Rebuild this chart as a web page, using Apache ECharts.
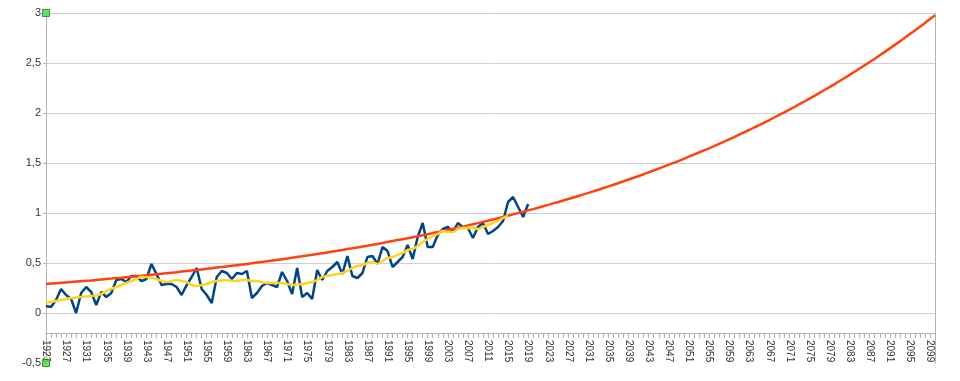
<!DOCTYPE html>
<html>
<head>
<meta charset="utf-8">
<script src="https://cdn.jsdelivr.net/npm/echarts@6/dist/echarts.min.js"></script>
<style>html,body{margin:0;padding:0;background:#fff}#c{width:960px;height:381px}</style>
</head>
<body>
<div id="c"></div>
<script>
// Year range of the category axis
const firstYear = 1923;
const lastYear = 2100;

// Annual values (1923–2019)
const annual = [
  0.07,0.06,0.13,0.24,0.18,0.14,0.00,0.20,0.26,0.21,
  0.08,0.21,0.16,0.20,0.33,0.34,0.31,0.37,0.37,0.32,
  0.34,0.49,0.39,0.28,0.29,0.29,0.26,0.18,0.28,0.36,
  0.45,0.24,0.18,0.10,0.36,0.42,0.40,0.34,0.40,0.39,
  0.42,0.15,0.20,0.27,0.30,0.28,0.26,0.41,0.32,0.19,
  0.45,0.16,0.20,0.14,0.43,0.33,0.42,0.46,0.51,0.39,
  0.57,0.37,0.35,0.40,0.56,0.57,0.49,0.66,0.62,0.46,
  0.51,0.56,0.68,0.54,0.76,0.90,0.66,0.66,0.78,0.84,
  0.86,0.81,0.90,0.86,0.85,0.75,0.86,0.90,0.79,0.82,
  0.86,0.92,1.11,1.16,1.06,0.96,1.09
];

// Smoothed values (1923–2015)
const smoothed = [
  0.107,0.11,0.12,0.13,0.14,0.15,0.155,0.16,0.165,0.17,
  0.175,0.19,0.22,0.24,0.26,0.28,0.30,0.32,0.34,0.36,
  0.36,0.35,0.34,0.32,0.31,0.32,0.33,0.32,0.31,0.28,
  0.27,0.28,0.29,0.31,0.32,0.325,0.33,0.32,0.32,0.33,
  0.33,0.32,0.32,0.31,0.30,0.30,0.30,0.30,0.29,0.28,
  0.285,0.29,0.30,0.31,0.33,0.36,0.37,0.38,0.39,0.40,
  0.42,0.45,0.47,0.48,0.50,0.51,0.49,0.52,0.55,0.56,
  0.58,0.60,0.63,0.64,0.67,0.71,0.74,0.77,0.79,0.82,
  0.81,0.81,0.84,0.85,0.85,0.85,0.84,0.86,0.88,0.90,
  0.92,0.95,0.97
];

// Trend curve (1923–2100)
const trend = [
  0.290,0.294,0.298,0.302,0.306,0.310,0.314,0.318,0.322,0.326,
  0.331,0.335,0.340,0.344,0.349,0.353,0.358,0.363,0.368,0.372,
  0.377,0.382,0.387,0.392,0.398,0.403,0.408,0.414,0.419,0.425,
  0.430,0.436,0.442,0.448,0.454,0.460,0.466,0.472,0.478,0.484,
  0.491,0.497,0.504,0.511,0.517,0.524,0.531,0.538,0.545,0.553,
  0.560,0.567,0.575,0.582,0.590,0.598,0.606,0.614,0.622,0.630,
  0.639,0.647,0.656,0.664,0.673,0.682,0.691,0.700,0.710,0.719,
  0.729,0.738,0.748,0.758,0.768,0.778,0.788,0.799,0.809,0.820,
  0.831,0.842,0.853,0.864,0.876,0.888,0.899,0.911,0.923,0.935,
  0.948,0.960,0.973,0.986,0.999,1.012,1.026,1.039,1.053,1.067,
  1.081,1.096,1.110,1.125,1.140,1.155,1.170,1.186,1.201,1.217,
  1.233,1.250,1.266,1.283,1.300,1.317,1.335,1.352,1.370,1.388,
  1.407,1.425,1.444,1.463,1.483,1.502,1.522,1.542,1.563,1.584,
  1.605,1.626,1.647,1.669,1.691,1.714,1.736,1.759,1.783,1.806,
  1.830,1.855,1.879,1.904,1.929,1.955,1.981,2.007,2.033,2.060,
  2.088,2.115,2.143,2.172,2.201,2.230,2.259,2.289,2.320,2.350,
  2.381,2.413,2.445,2.477,2.510,2.543,2.577,2.611,2.646,2.681,
  2.716,2.752,2.789,2.826,2.863,2.901,2.940,2.978
];

// Y-axis range
const yMin = -0.5, yMax = 3, yStep = 0.5;

// Selection handle markers at the ends of the value axis
const handles = [[0, yMax], [0, yMin]];

const years = [];
for (let y = firstYear; y <= lastYear; y++) years.push(String(y));

const grey = '#b3b3b3';
const font = '"Liberation Sans", Arial, sans-serif';

const chart = echarts.init(document.getElementById('c'), null, {renderer: 'canvas'});
chart.setOption({
  animation: false,
  grid: {left: 46, right: 25, top: 13, bottom: 18, containLabel: false, outerBoundsMode: 'none'},
  xAxis: {
    type: 'category',
    data: years,
    boundaryGap: false,
    position: 'bottom',
    offset: -30,
    axisLine: {show: true, onZero: false, lineStyle: {color: grey, width: 1}},
    axisTick: {show: true, interval: 0, length: 5, lineStyle: {color: grey}},
    axisLabel: {interval: 3, rotate: -90, fontSize: 10, color: '#333', fontFamily: font, margin: 7,
      overflow: 'none', hideOverlap: false},
    splitLine: {show: false}
  },
  yAxis: [{
    type: 'value',
    min: yMin, max: yMax, interval: yStep,
    axisLine: {show: true, onZero: false, lineStyle: {color: grey}},
    axisTick: {show: true, length: 3, lineStyle: {color: grey}},
    axisLabel: {fontSize: 11, color: '#333', fontFamily: font, margin: 5,
      formatter: v => String(v).replace('.', ',')},
    splitLine: {show: true, showMinLine: false, lineStyle: {color: '#cfcfcf', width: 1}}
  }, {
    type: 'value',
    position: 'right',
    min: yMin, max: yMax,
    axisLine: {show: true, onZero: false, lineStyle: {color: grey}},
    axisTick: {show: false},
    axisLabel: {show: false},
    splitLine: {show: false}
  }],
  series: [
    {type: 'line', data: annual, symbol: 'none', lineStyle: {color: '#004586', width: 2.5}, z: 2},
    {type: 'line', data: trend, symbol: 'none', lineStyle: {color: '#ff420e', width: 2.5}, z: 3},
    {type: 'line', data: smoothed, symbol: 'none', smooth: 0.3, lineStyle: {color: '#ffd320', width: 2.5}, z: 4},
    {type: 'scatter', data: handles, symbol: 'rect', symbolSize: 7, clip: false, silent: true,
      itemStyle: {color: '#44dd44', borderColor: '#227722', borderWidth: 1}, z: 10}
  ]
});
</script>
</body>
</html>
